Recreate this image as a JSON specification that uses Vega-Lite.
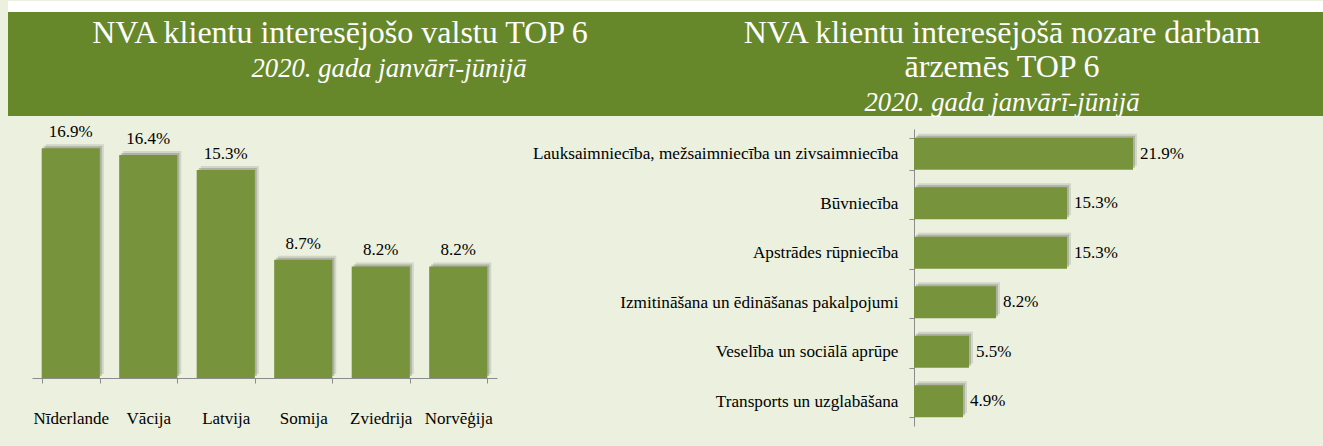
{
  "$schema": "https://vega.github.io/schema/vega-lite/v6.json",
  "background": "#ebf0df",
  "padding": {"left": 8, "top": 0, "right": 0, "bottom": 20},
  "config": {"view": {"stroke": null}, "font": "Liberation Serif"},
  "spacing": 3,
  "vconcat": [
    {
      "spacing": 0,
      "vconcat": [
        {
          "width": 1315,
          "height": 11,
          "view": {"fill": "#ffffff", "stroke": null},
          "data": {"values": [{}]},
          "mark": {"type": "text", "text": ""},
          "encoding": {}
        },
        {
          "width": 1315,
          "height": 104,
          "view": {"fill": "#67882a", "stroke": null},
          "data": {
            "values": [
              {"p": 1, "r": 1, "t": "NVA klientu interesējošo valstu TOP 6", "k": "title"},
              {"p": 1, "r": 2, "t": "2020. gada janvārī-jūnijā", "k": "subL"},
              {"p": 2, "r": 1, "t": "NVA klientu interesējošā nozare darbam", "k": "title"},
              {"p": 2, "r": 2, "t": "ārzemēs TOP 6", "k": "title"},
              {"p": 2, "r": 3, "t": "2020. gada janvārī-jūnijā", "k": "sub"}
            ]
          },
          "encoding": {
            "x": {"field": "p", "type": "quantitative", "scale": {"domain": [0.49849, 2.48489], "nice": false, "zero": false}, "axis": null},
            "y": {"field": "r", "type": "quantitative", "scale": {"domain": [0.088, 3.147], "nice": false, "zero": false, "reverse": true}, "axis": null},
            "text": {"field": "t"}
          },
          "layer": [
            {
              "transform": [{"filter": "datum.k == 'title'"}],
              "mark": {"type": "text", "font": "Liberation Serif", "fontSize": 32, "color": "#ffffff", "baseline": "alphabetic", "align": "center"}
            },
            {
              "transform": [{"filter": "datum.k == 'sub'"}],
              "mark": {"type": "text", "font": "Liberation Serif", "fontSize": 26.7, "fontStyle": "italic", "color": "#ffffff", "baseline": "alphabetic", "align": "center"}
            },
            {
              "transform": [{"filter": "datum.k == 'subL'"}],
              "mark": {"type": "text", "font": "Liberation Serif", "fontSize": 26.7, "fontStyle": "italic", "color": "#ffffff", "baseline": "alphabetic", "align": "center", "dx": 49}
            }
          ]
        }
      ]
    },
    {
      "bounds": "flush",
      "spacing": 0,
      "hconcat": [
        {
          "width": 24,
          "height": 1,
          "data": {"values": [{}]},
          "mark": {"type": "text", "text": ""},
          "encoding": {}
        },
        {
          "bounds": "flush",
          "spacing": 417,
          "hconcat": [
            {
              "width": 465,
              "height": 249,
              "data": {
                "values": [
                  {"c": "Nīderlande", "v": 0.169},
                  {"c": "Vācija", "v": 0.164},
                  {"c": "Latvija", "v": 0.153},
                  {"c": "Somija", "v": 0.087},
                  {"c": "Zviedrija", "v": 0.082},
                  {"c": "Norvēģija", "v": 0.082}
                ]
              },
              "encoding": {
                "x": {
                  "field": "c", "type": "nominal", "sort": null,
                  "scale": {"paddingInner": 0.25, "paddingOuter": 0.125},
                  "axis": {"title": null, "labelAngle": 0, "labelFont": "Liberation Serif", "labelFontSize": 17, "labelColor": "#000000", "tickSize": 5, "tickColor": "#8c8c8c", "domainColor": "#8c8c8c", "labelPadding": 27, "tickBand": "extent", "labelLimit": 1000}
                },
                "y": {
                  "field": "v", "type": "quantitative",
                  "scale": {"domain": [0, 0.18309], "nice": false},
                  "axis": null
                }
              },
              "layer": [
                {"mark": {"type": "bar", "color": "#7a7a72", "opacity": 0.22, "xOffset": 4, "yOffset": -4}},
                {"mark": {"type": "bar", "color": "#7a7a72", "opacity": 0.4, "xOffset": 2, "yOffset": -2}},
                {"mark": {"type": "bar", "color": "#77933c"}},
                {
                  "mark": {"type": "text", "baseline": "alphabetic", "align": "center", "dy": -11, "font": "Liberation Serif", "fontSize": 17, "color": "#000000"},
                  "encoding": {"text": {"field": "v", "type": "quantitative", "format": ".1%"}}
                }
              ]
            },
            {
              "width": 380,
              "height": 297,
              "data": {
                "values": [
                  {"n": "Lauksaimniecība, mežsaimniecība un zivsaimniecība", "v": 0.219},
                  {"n": "Būvniecība", "v": 0.153},
                  {"n": "Apstrādes rūpniecība", "v": 0.153},
                  {"n": "Izmitināšana un ēdināšanas pakalpojumi", "v": 0.082},
                  {"n": "Veselība un sociālā aprūpe", "v": 0.055},
                  {"n": "Transports un uzglabāšana", "v": 0.049}
                ]
              },
              "encoding": {
                "y": {
                  "field": "n", "type": "nominal", "sort": null,
                  "scale": {"paddingInner": 0.35, "paddingOuter": 0.175},
                  "axis": {"title": null, "labelFont": "Liberation Serif", "labelFontSize": 17.2, "labelColor": "#000000", "tickSize": 5, "tickColor": "#8c8c8c", "domainColor": "#8c8c8c", "labelPadding": 11, "tickBand": "extent", "labelLimit": 1000, "maxExtent": 600}
                },
                "x": {
                  "field": "v", "type": "quantitative",
                  "scale": {"domain": [0, 0.38], "nice": false},
                  "axis": null
                }
              },
              "layer": [
                {"mark": {"type": "bar", "color": "#7a7a72", "opacity": 0.22, "xOffset": 4, "yOffset": -4}},
                {"mark": {"type": "bar", "color": "#7a7a72", "opacity": 0.4, "xOffset": 2, "yOffset": -2}},
                {"mark": {"type": "bar", "color": "#77933c"}},
                {
                  "mark": {"type": "text", "baseline": "middle", "align": "left", "dx": 7, "font": "Liberation Serif", "fontSize": 17, "color": "#000000"},
                  "encoding": {"text": {"field": "v", "type": "quantitative", "format": ".1%"}}
                }
              ]
            }
          ]
        }
      ]
    }
  ]
}
